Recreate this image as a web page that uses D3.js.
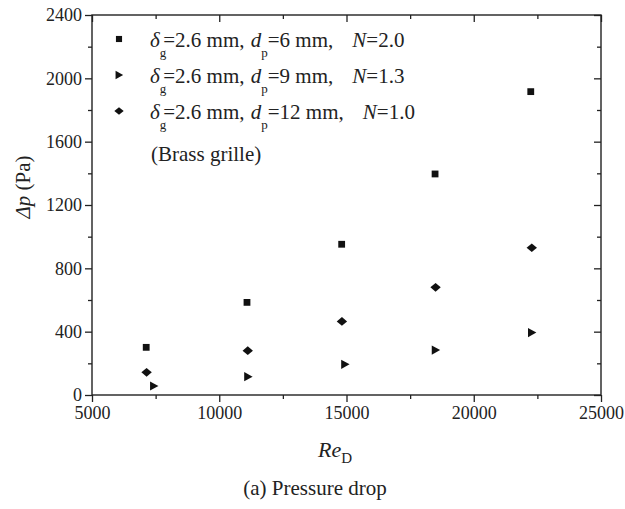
<!DOCTYPE html>
<html>
<head>
<meta charset="utf-8">
<script src="https://cdn.jsdelivr.net/npm/d3@7"></script>
<style>
body { margin: 0; background: #fff; }
text { font-family: "Liberation Serif", "Times New Roman", serif; fill: #222; }
</style>
</head>
<body>
<div id="chart"></div>
<script>
var width = 625, height = 509;

// data
var reSquare = [7130, 11090, 14810, 18480, 22240];
var dpSquare = [301, 585, 952, 1396, 1916];
var reTri = [7430, 11130, 14940, 18500, 22280];
var dpTri = [57, 116, 194, 284, 394];
var reDiamond = [7145, 11120, 14820, 18500, 22280];
var dpDiamond = [143, 280, 465, 680, 930];

var xTicks = [5000, 10000, 15000, 20000, 25000];
var yTicks = [0, 400, 800, 1200, 1600, 2000, 2400];
var xMinor = [7500, 12500, 17500, 22500];
var yMinor = [200, 600, 1000, 1400, 1800, 2200];

var legendLabels = [
    { sym: "square", dp: "6", n: "2.0" },
    { sym: "tri", dp: "9", n: "1.3" },
    { sym: "diamond", dp: "12", n: "1.0" }
];

var mLeft = 92, mRight = 601, mTop = 15, mBottom = 395;

var svg = d3.select("#chart").append("svg")
    .attr("width", width)
    .attr("height", height)

var x = d3.scaleLinear().domain([5000, 25000]).range([mLeft, mRight])
var y = d3.scaleLinear().domain([0, 2400]).range([mBottom, mTop])

function symPath(kind) {
    if (kind == "square") return "M-3.4,-3.4H3.4V3.4H-3.4Z";
    if (kind == "tri") return "M-3.8,-4.6L4.6,0L-3.8,4.6Z";
    return "M-5.2,0L0,-4.3L5.2,0L0,4.3Z";
}

// axes
var axisColor = "#222";
svg.append("g").attr("transform", "translate(0," + mBottom + ")")
    .call(d3.axisBottom(x).tickValues(xTicks).tickSize(7).tickFormat(d3.format("d")).tickPadding(4))
svg.append("g").attr("transform", "translate(0," + mBottom + ")")
    .call(d3.axisBottom(x).tickValues(xMinor).tickSize(4).tickFormat(""))
svg.append("g").attr("transform", "translate(0," + mTop + ")")
    .call(d3.axisBottom(x).tickValues(xTicks).tickSize(7).tickFormat(""))
svg.append("g").attr("transform", "translate(0," + mTop + ")")
    .call(d3.axisBottom(x).tickValues(xMinor).tickSize(4).tickFormat(""))

svg.append("g").attr("transform", "translate(" + mLeft + ",0)")
    .call(d3.axisLeft(y).tickValues(yTicks).tickSize(7).tickFormat(d3.format("d")).tickPadding(3))
svg.append("g").attr("transform", "translate(" + mLeft + ",0)")
    .call(d3.axisLeft(y).tickValues(yMinor).tickSize(4).tickFormat(""))
svg.append("g").attr("transform", "translate(" + mRight + ",0)")
    .call(d3.axisLeft(y).tickValues(yTicks).tickSize(7).tickFormat(""))
svg.append("g").attr("transform", "translate(" + mRight + ",0)")
    .call(d3.axisLeft(y).tickValues(yMinor).tickSize(4).tickFormat(""))

svg.selectAll(".domain").remove()
svg.selectAll(".tick line").attr("stroke", axisColor).attr("stroke-width", 1.3)
svg.selectAll(".tick text")
    .style("font-family", "Liberation Serif, Times New Roman, serif")
    .attr("font-size", 18)
    .style("fill", "#222")

svg.append("rect")
    .attr("x", mLeft)
    .attr("y", mTop)
    .attr("width", mRight - mLeft)
    .attr("height", mBottom - mTop)
    .attr("fill", "none")
    .attr("stroke", axisColor)
    .attr("stroke-width", 1.4)

// data points
var series = [
    { sym: "square", xs: reSquare, ys: dpSquare },
    { sym: "tri", xs: reTri, ys: dpTri },
    { sym: "diamond", xs: reDiamond, ys: dpDiamond }
];

series.forEach(function (s) {
    svg.append("g").selectAll("path")
        .data(s.xs)
        .enter()
        .append("path")
        .attr("d", symPath(s.sym))
        .attr("transform", function (d, i) {
            return "translate(" + x(d) + "," + y(s.ys[i]) + ")";
        })
        .attr("fill", "#111")
})

// legend
var leg = svg.append("g")
legendLabels.forEach(function (l, k) {
    var by = 47 + k * 36;
    leg.append("path")
        .attr("d", symPath(l.sym))
        .attr("transform", "translate(119," + (by - 8) + ") scale(0.9)")
        .attr("fill", "#111")

    var t = leg.append("text")
        .attr("x", 150)
        .attr("y", by)
        .attr("font-size", 21)
        .attr("xml:space", "preserve")
    t.append("tspan").attr("font-style", "italic").text("δ")
    t.append("tspan").attr("font-size", 13).attr("dy", 10).text("g")
    t.append("tspan").attr("dy", -10).attr("dx", -3).text("=2.6 mm, ")
    t.append("tspan").attr("font-style", "italic").attr("dx", 1).text("d")
    t.append("tspan").attr("font-size", 13).attr("dy", 10).text("p")
    t.append("tspan").attr("dy", -10).attr("dx", 0).text("=" + l.dp + " mm,")
    t.append("tspan").attr("dx", 19).attr("font-style", "italic").text("N")
    t.append("tspan").text("=" + l.n)
})

leg.append("text")
    .attr("x", 151)
    .attr("y", 161)
    .attr("font-size", 21)
    .text("(Brass grille)")

// axis titles
var yl = svg.append("text")
    .attr("transform", "translate(30,187) rotate(-90)")
    .attr("text-anchor", "middle")
    .attr("font-size", 21)
yl.append("tspan").attr("font-style", "italic").text("Δp")
yl.append("tspan").text(" (Pa)")

var xl = svg.append("text")
    .attr("x", 318)
    .attr("y", 457)
    .attr("font-size", 22)
xl.append("tspan").attr("font-style", "italic").text("Re")
xl.append("tspan").attr("font-size", 15).attr("dy", 6).text("D")

svg.append("text")
    .attr("x", 315)
    .attr("y", 495)
    .attr("text-anchor", "middle")
    .attr("font-size", 21)
    .text("(a) Pressure drop")
</script>
</body>
</html>
